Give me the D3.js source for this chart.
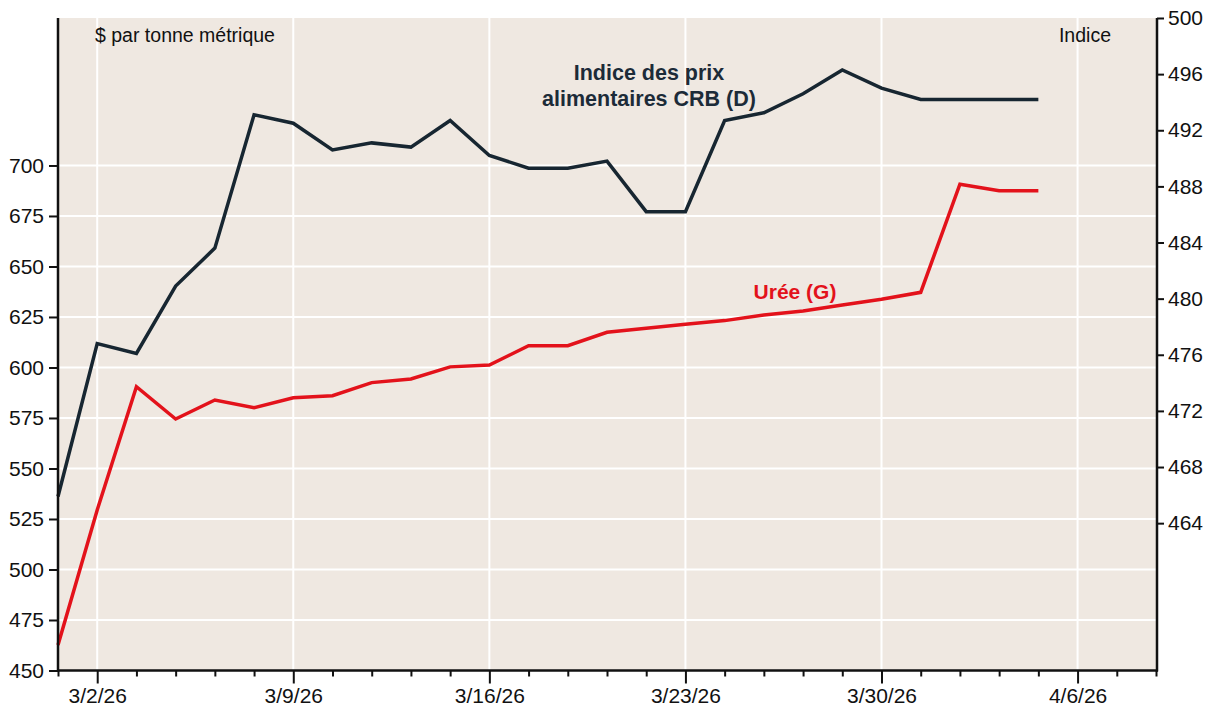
<!DOCTYPE html>
<html>
<head>
<meta charset="utf-8">
<script src="https://cdn.jsdelivr.net/npm/d3@7"></script>
<style>
  body { margin: 0; background: #fff; }
  svg text { font-family: "Liberation Sans", Arial, sans-serif; }
</style>
</head>
<body>
<div id="chart"></div>
<script>
// trading days shown on the x axis (weekends skipped)
var days = ["2/27/26","3/2/26","3/3/26","3/4/26","3/5/26","3/6/26",
  "3/9/26","3/10/26","3/11/26","3/12/26","3/13/26",
  "3/16/26","3/17/26","3/18/26","3/19/26","3/20/26",
  "3/23/26","3/24/26","3/25/26","3/26/26","3/27/26",
  "3/30/26","3/31/26","4/1/26","4/2/26","4/3/26",
  "4/6/26","4/7/26","4/8/26"];

// Urée, $ par tonne métrique (left axis)
var uree = [462.6, 529.5, 590.5, 574.5, 583.9, 580.1, 585.0, 586.0, 592.5, 594.3, 600.3,
  601.2, 610.8, 610.8, 617.4, 619.4, 621.4, 623.2, 626.0, 628.0, 630.9,
  633.8, 637.2, 690.7, 687.5, 687.5];

// Indice des prix alimentaires CRB (right axis)
var crb = [465.9, 476.8, 476.1, 480.9, 483.6, 493.1, 492.5, 490.6, 491.1, 490.8, 492.7,
  490.2, 489.3, 489.3, 489.8, 486.2, 486.2, 492.7, 493.25, 494.6, 496.3,
  495.0, 494.2, 494.2, 494.2, 494.2];

var leftTicks = [450, 475, 500, 525, 550, 575, 600, 625, 650, 675, 700];
var rightTicks = [464, 468, 472, 476, 480, 484, 488, 492, 496, 500];

var W = 1215, H = 713;
var L = 58, R = 1157, T = 18, B = 670.5;

var svg = d3.select("#chart").append("svg")
    .attr("width", W)
    .attr("height", H);

var parse = d3.timeParse("%m/%d/%y");
var isMonday = function(d) { return parse(d).getDay() === 1; };

var x = d3.scalePoint().domain(days).range([L, 1156]).padding(0);
var yL = d3.scaleLinear().domain([450, 773]).range([B, T]);
var yR = d3.scaleLinear().domain([453.5, 500]).range([B, T]);

// plot background
svg.append("rect")
    .attr("x", L).attr("y", T)
    .attr("width", R - L).attr("height", B - T)
    .attr("fill", "#efe8e1");

// grid
svg.append("g")
    .selectAll("line.h")
    .data(leftTicks.slice(1))
  .enter().append("line")
    .attr("x1", L).attr("x2", R)
    .attr("y1", function(d) { return yL(d); })
    .attr("y2", function(d) { return yL(d); })
    .attr("stroke", "#fff")
    .attr("stroke-width", 2);

svg.append("g")
    .selectAll("line.v")
    .data(days.filter(isMonday))
  .enter().append("line")
    .attr("x1", function(d) { return x(d); })
    .attr("x2", function(d) { return x(d); })
    .attr("y1", T).attr("y2", B)
    .attr("stroke", "#fff")
    .attr("stroke-width", 2);

// lines
var lineL = d3.line()
    .x(function(d, i) { return x(days[i]); })
    .y(function(d) { return yL(d); });
var lineR = d3.line()
    .x(function(d, i) { return x(days[i]); })
    .y(function(d) { return yR(d); });

svg.append("path")
    .datum(crb)
    .attr("d", lineR)
    .attr("fill", "none")
    .attr("stroke", "#172631")
    .attr("stroke-width", 3.5)
    .attr("stroke-linejoin", "miter")
    .attr("stroke-miterlimit", 2);

svg.append("path")
    .datum(uree)
    .attr("d", lineL)
    .attr("fill", "none")
    .attr("stroke", "#e3121b")
    .attr("stroke-width", 3.5)
    .attr("stroke-linejoin", "miter")
    .attr("stroke-miterlimit", 2);

// axes
var axL = svg.append("g")
    .attr("transform", "translate(" + L + ",0)")
    .call(d3.axisLeft(yL).tickValues(leftTicks).tickSize(9).tickPadding(5));

var axR = svg.append("g")
    .attr("transform", "translate(" + R + ",0)")
    .call(d3.axisRight(yR).tickValues(rightTicks).tickSize(7).tickPadding(4));

var axB = svg.append("g")
    .attr("transform", "translate(0," + B + ")")
    .call(d3.axisBottom(x)
      .tickSize(6)
      .tickPadding(12)
      .tickFormat(function(d) { return isMonday(d) ? d : ""; }));

axB.selectAll(".tick line")
    .attr("y2", function(d) { return isMonday(d) ? 13 : 6; });

[axL, axR, axB].forEach(function(a) {
  a.select(".domain").remove();
  a.selectAll(".tick line").attr("stroke", "#111").attr("stroke-width", 2);
  a.selectAll(".tick text")
      .attr("font-size", "21px")
      .attr("font-family", "Liberation Sans, Arial, sans-serif")
      .attr("fill", "#111");
});

// axis frame lines
svg.append("line").attr("x1", L).attr("x2", L).attr("y1", T).attr("y2", B + 1)
    .attr("stroke", "#111").attr("stroke-width", 2.5);
svg.append("line").attr("x1", R).attr("x2", R).attr("y1", T).attr("y2", B + 1)
    .attr("stroke", "#111").attr("stroke-width", 2.5);
svg.append("line").attr("x1", L - 1).attr("x2", R + 1).attr("y1", B).attr("y2", B)
    .attr("stroke", "#111").attr("stroke-width", 2.5);

// unit labels
svg.append("text")
    .attr("x", 95).attr("y", 42)
    .attr("font-size", "19.5px")
    .attr("fill", "#111")
    .text("$ par tonne métrique");

svg.append("text")
    .attr("x", 1111).attr("y", 42)
    .attr("text-anchor", "end")
    .attr("font-size", "19.5px")
    .attr("fill", "#111")
    .text("Indice");

// series labels
var crbLabel = svg.append("text")
    .attr("text-anchor", "middle")
    .attr("font-size", "21.5px")
    .attr("font-weight", "bold")
    .attr("fill", "#1c2b38");
crbLabel.append("tspan").attr("x", 649).attr("y", 80).text("Indice des prix");
crbLabel.append("tspan").attr("x", 649).attr("y", 106).text("alimentaires CRB (D)");

svg.append("text")
    .attr("x", 795).attr("y", 299)
    .attr("text-anchor", "middle")
    .attr("font-size", "21px")
    .attr("font-weight", "bold")
    .attr("fill", "#e3121b")
    .text("Urée (G)");
</script>
</body>
</html>
